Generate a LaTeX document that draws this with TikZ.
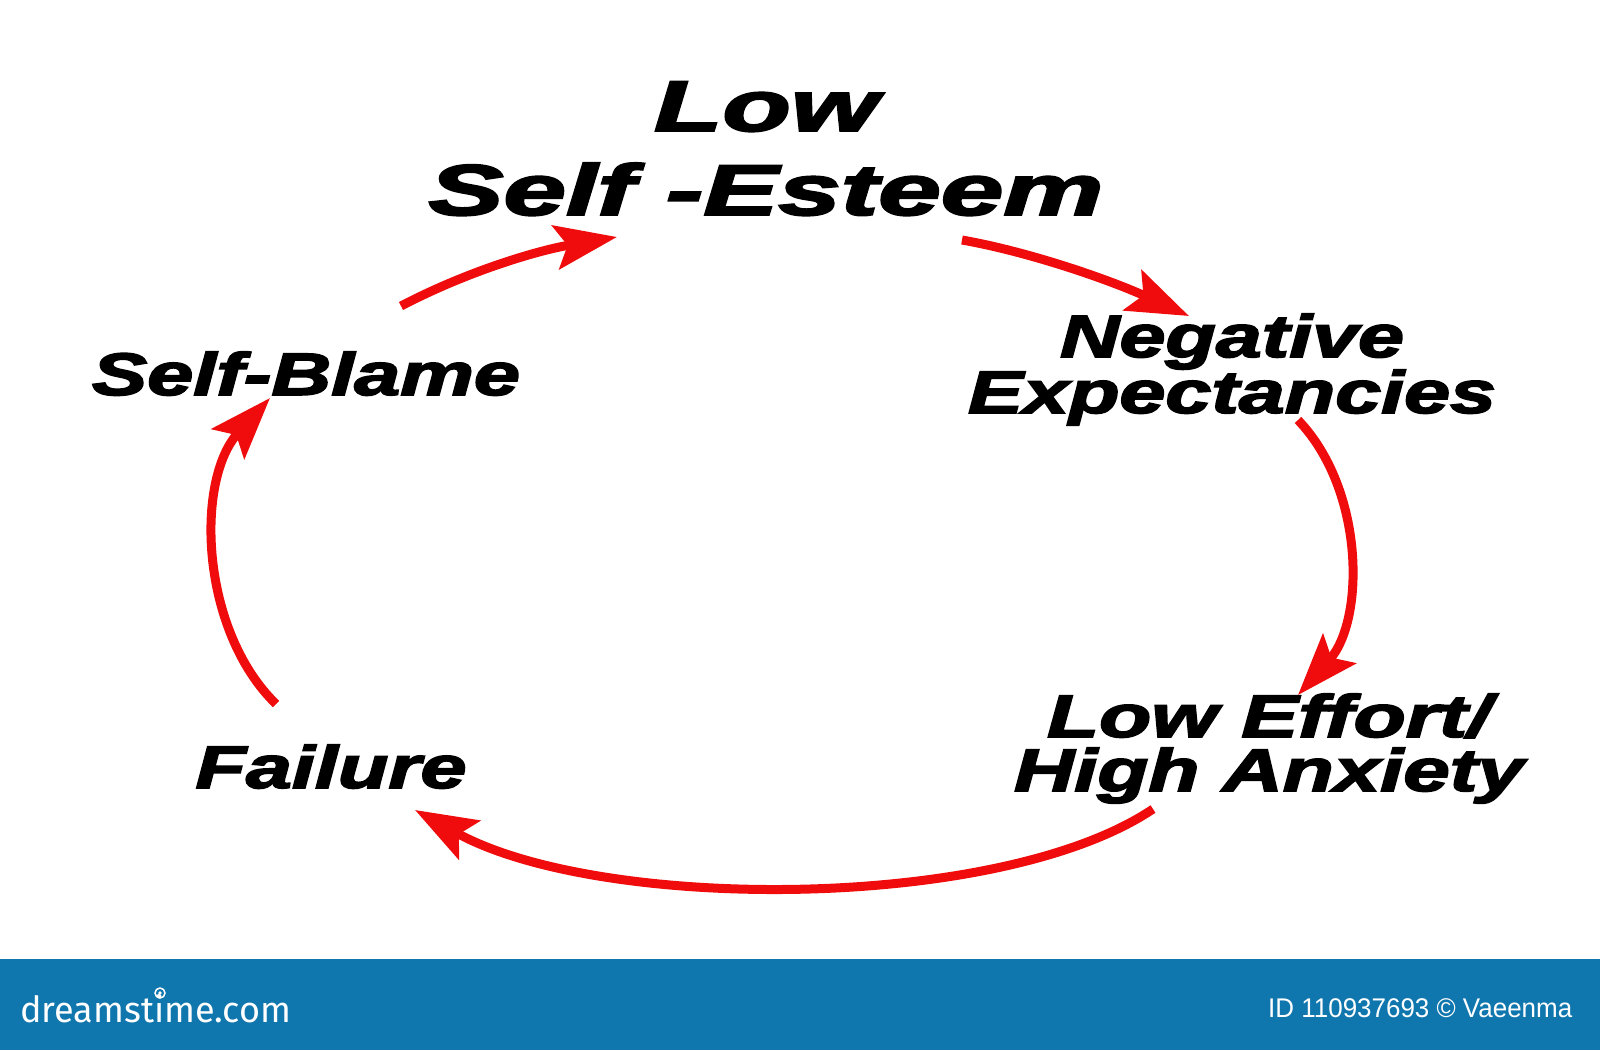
\documentclass[tikz,border=0pt]{standalone}
\usepackage{fontspec}
\usepackage{graphicx}
\setmainfont{Liberation Sans}
\newfontfamily\lblfont[BoldItalicFeatures={FakeBold=2.5}]{Liberation Sans}
\newfontfamily\logofont{Fira Sans}
\usetikzlibrary{arrows.meta}
\definecolor{cycred}{RGB}{240,12,12}
\definecolor{footblue}{RGB}{16,118,174}
\newcommand{\fitw}[2]{\resizebox{#1pt}{\height}{#2}}
\begin{document}
\begin{tikzpicture}[x=1pt,y=-1pt,
  lbl/.style={inner sep=0pt, anchor=base, align=center, text=black},
  small/.style={font=\lblfont\bfseries\itshape\fontsize{60}{50}\selectfont},
  big/.style={font=\lblfont\bfseries\itshape\fontsize{72}{84}\selectfont},
  cyc/.style={draw=cycred, line width=9pt, -{Stealth[length=62pt,width=44pt,inset=12pt]}},
  foot/.style={inner sep=0pt, anchor=base west, text=white},
]
\useasboundingbox (0,0) rectangle (1600,1050);
\fill[white] (0,0) rectangle (1600,1050);

% labels (anchor = baseline of the last line)
\node[lbl, big] (lse) at (766,215) {\fitw{224}{Low}\\\fitw{675}{Self -Esteem}};
\node[lbl, small] (neg) at (1232,413) {\fitw{344}{Negative}\\[-1pt]\fitw{528}{Expectancies}};
\node[lbl, small] (eff) at (1269,791) {\fitw{444}{Low Effort/}\\[4pt]\fitw{510}{High Anxiety}};
\node[lbl, small] (fail) at (331,788) {\fitw{271}{Failure}};
\node[lbl, small] (blame) at (306,395) {\fitw{428}{Self-Blame}};

% arrow end points
\coordinate (a1s) at (401,306); \coordinate (a1e) at (617,237);
\coordinate (a2s) at (962,240); \coordinate (a2e) at (1189,316);
\coordinate (a3s) at (1298,420); \coordinate (a3e) at (1298,695);
\coordinate (a4s) at (1153,809); \coordinate (a4e) at (415,810);
\coordinate (a5s) at (276,704); \coordinate (a5e) at (270,398);

\draw[cyc] (a1s) .. controls (470,270) and (540,250) .. (a1e);
\draw[cyc] (a2s) .. controls (1030,252) and (1110,280) .. (a2e);
\draw[cyc] (a3s) .. controls (1365,490) and (1365,620) .. (a3e);
\draw[cyc] (a4s) .. controls (1000,912) and (600,912) .. (a4e);
\draw[cyc] (a5s) .. controls (200,630) and (195,480) .. (a5e);

% footer
\fill[footblue] (0,959) rectangle (1600,1050);
\node[foot, font=\logofont\fontsize{36}{36}\selectfont] (logo) at (20,1022) {\fitw{271}{dreamstime.com}};
\draw[white, line width=1.5pt] (160,993) circle (5);
\fill[white] (160,993) circle (1.8);
\node[foot, font=\fontsize{27}{27}\selectfont] (credit) at (1268,1017) {\fitw{304}{ID 110937693 \textcopyright{} Vaeenma}};
\end{tikzpicture}
\end{document}
